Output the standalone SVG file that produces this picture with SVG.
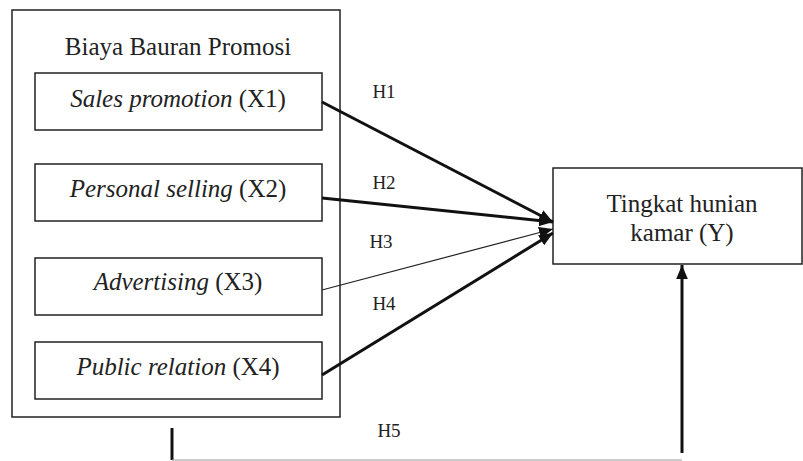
<svg xmlns="http://www.w3.org/2000/svg" width="803" height="461" viewBox="0 0 803 461">
<defs>
<style>
.box{fill:#fff;stroke:#222;stroke-width:1.5}
.t{font-family:'Liberation Serif','Times New Roman','DejaVu Serif',serif;font-size:25px;fill:#222;text-anchor:middle}
.h{font-family:'Liberation Serif','Times New Roman','DejaVu Serif',serif;font-size:19px;fill:#222;text-anchor:middle}
.thick{stroke:#111;stroke-width:3;fill:none}
.thin{stroke:#222;stroke-width:1.2;fill:none}
</style>
<marker id="ah" markerUnits="userSpaceOnUse" markerWidth="14" markerHeight="12" refX="12" refY="5" orient="auto" viewBox="0 0 12 10">
<path d="M0,0 L12,5 L0,10 Z" fill="#111"/>
</marker>
</defs>
<g id="group-biaya">
<rect class="box" x="12" y="10" width="328" height="407"/>
<text class="t" x="178" y="55">Biaya Bauran Promosi</text>
</g>
<g id="node-x1">
<rect class="box" x="35" y="73" width="287" height="57"/>
<text class="t" x="178" y="107"><tspan font-style="italic">Sales promotion</tspan> (X1)</text>
</g>
<g id="node-x2">
<rect class="box" x="35" y="164" width="287" height="57"/>
<text class="t" x="178" y="197"><tspan font-style="italic">Personal selling</tspan> (X2)</text>
</g>
<g id="node-x3">
<rect class="box" x="35" y="258" width="287" height="57"/>
<text class="t" x="178" y="290"><tspan font-style="italic">Advertising</tspan> (X3)</text>
</g>
<g id="node-x4">
<rect class="box" x="35" y="342" width="287" height="57"/>
<text class="t" x="178" y="375"><tspan font-style="italic">Public relation</tspan> (X4)</text>
</g>
<g id="node-y">
<rect class="box" x="553" y="168" width="249" height="96"/>
<text class="t" x="682" y="212">Tingkat hunian</text>
<text class="t" x="682" y="241">kamar (Y)</text>
</g>
<g id="connectors">
<line class="thick" x1="322" y1="102" x2="553" y2="222" marker-end="url(#ah)"/>
<line class="thick" x1="322" y1="198" x2="553" y2="222" marker-end="url(#ah)"/>
<line class="thin" x1="322" y1="290" x2="553" y2="229" marker-end="url(#ah)"/>
<line class="thick" x1="322" y1="375" x2="553" y2="233" marker-end="url(#ah)"/>
<line class="thick" x1="172" y1="428" x2="172" y2="460"/>
<line x1="172" y1="460" x2="682" y2="460" stroke="#999" stroke-width="1.2"/>
<line class="thick" x1="682" y1="453" x2="682" y2="265" marker-end="url(#ah)"/>
<text class="h" x="384" y="98">H1</text>
<text class="h" x="384" y="189">H2</text>
<text class="h" x="381" y="248">H3</text>
<text class="h" x="384" y="310">H4</text>
<text class="h" x="389" y="437">H5</text>
</g>
</svg>
